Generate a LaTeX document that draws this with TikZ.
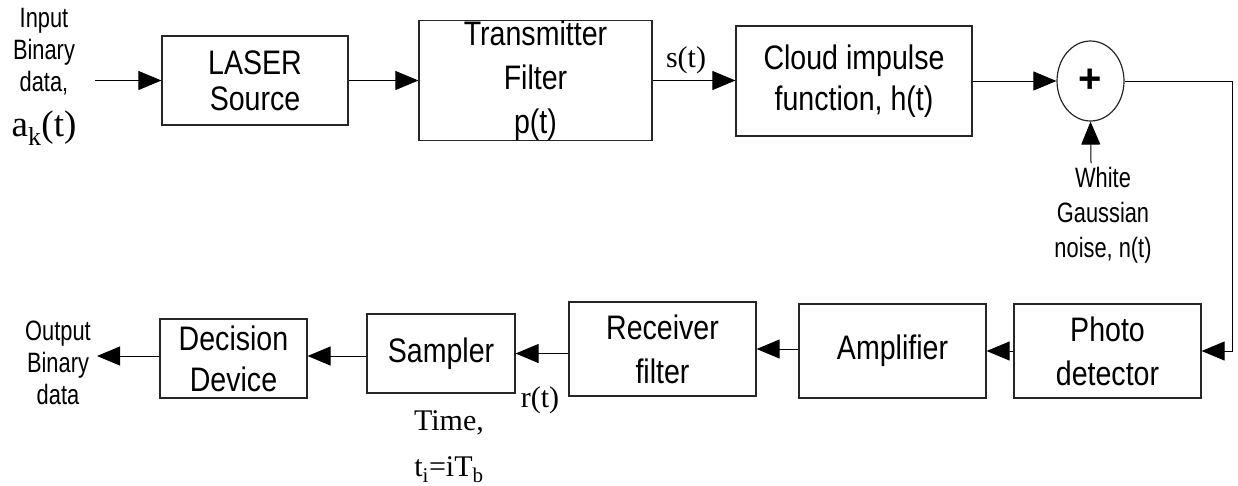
\documentclass[tikz,border=0pt]{standalone}
\usepackage{fontspec}
\setmainfont{Liberation Sans}
\newfontfamily\boxfont[FakeStretch=0.84]{Liberation Sans}
\newfontfamily\lblfont[FakeStretch=0.78]{Liberation Sans}
\newfontfamily\serf{Liberation Serif}
\usetikzlibrary{arrows.meta,shapes.geometric}
\begin{document}
\begin{tikzpicture}[x=1pt,y=-1pt,
  blk/.style={draw=black!85,line width=1.2pt,minimum width=187pt,minimum height=94pt,
    inner sep=0pt,align=center,font=\boxfont\fontsize{34}{44}\selectfont},
  conn/.style={line width=1pt,-{Triangle[length=23pt,width=19pt]}},
  lbl/.style={align=center,inner sep=0pt,font=\lblfont\fontsize{28}{32}\selectfont},
  slbl/.style={inner sep=0pt,font=\serf\fontsize{30}{34}\selectfont}]
\useasboundingbox (0,0) rectangle (1238,485);
% top row
\node[blk,minimum width=186pt,minimum height=89pt,font=\boxfont\fontsize{34}{36}\selectfont] (laser) at (255,80.5) {LASER\\Source};
\node[blk,minimum width=233pt,minimum height=119pt,font=\boxfont\fontsize{34}{44}\selectfont] (trans) at (535.5,80.5) {Transmitter\\Filter\\p(t)};
\node[blk,minimum width=236pt,minimum height=110pt,font=\boxfont\fontsize{34}{41}\selectfont] (cloud) at (854,81) {Cloud impulse\\function, h(t)};
\node[ellipse,draw=black!85,line width=1.2pt,minimum width=67pt,minimum height=80pt,inner sep=0pt,
  font=\bfseries\fontsize{40}{40}\selectfont] (sum) at (1090.5,81) {+};
% bottom row
\node[blk] (photo) at (1107.5,351) {Photo\\detector};
\node[blk] (amp) at (892.5,351) {Amplifier};
\node[blk,font=\boxfont\fontsize{34}{44}\selectfont] (recv) at (662.5,349) {Receiver\\filter};
\node[blk,minimum width=148pt,minimum height=79pt] (samp) at (441,353.5) {Sampler};
\node[blk,minimum width=147pt,minimum height=79pt,font=\boxfont\fontsize{34}{41}\selectfont] (dec) at (233.5,358.5) {Decision\\Device};
% labels
\node[lbl] (inlab) at (44,52) {Input\\Binary\\data,};
\node[slbl,font=\serf\fontsize{37}{40}\selectfont] (ak) at (44,128) {a\textsubscript{k}(t)};
\node[slbl] (st) at (686,60) {s(t)};
\node[lbl,font=\lblfont\fontsize{28}{35}\selectfont] (noise) at (1103,215) {White\\Gaussian\\noise, n(t)};
\node[lbl] (outlab) at (58,363) {Output\\Binary\\data};
\node[slbl] (rt) at (540,400) {r(t)};
\node[slbl,font=\serf\fontsize{30}{34}\selectfont] (time) at (449,423) {Time,};
\node[slbl,font=\serf\fontsize{30}{34}\selectfont] (ti) at (449,470) {t\textsubscript{i}=iT\textsubscript{b}};
% free ends
\coordinate (in0) at (95,80.5);
\coordinate (nz) at (1091,163);
\coordinate (corner) at (1232,81);
\coordinate (out0) at (97,356);
% connectors
\draw[conn] (in0) -- (laser.west);
\draw[conn] (laser.east) -- (trans.west);
\draw[conn] (trans.east) -- (trans.east -| cloud.west);
\draw[conn] (cloud.east |- sum.west) -- (sum.west);
\draw[conn] (sum.east) -- (corner) |- (photo.east);
\draw[conn] (nz) -- (sum.south);
\draw[conn] (photo.west) -- (amp.east);
\draw[conn] (amp.west |- recv.east) -- (recv.east);
\draw[conn] (recv.west |- samp.east) -- (samp.east);
\draw[conn] (samp.west |- out0) -- (dec.east |- out0);
\draw[conn] (dec.west |- out0) -- (out0);
\end{tikzpicture}
\end{document}
